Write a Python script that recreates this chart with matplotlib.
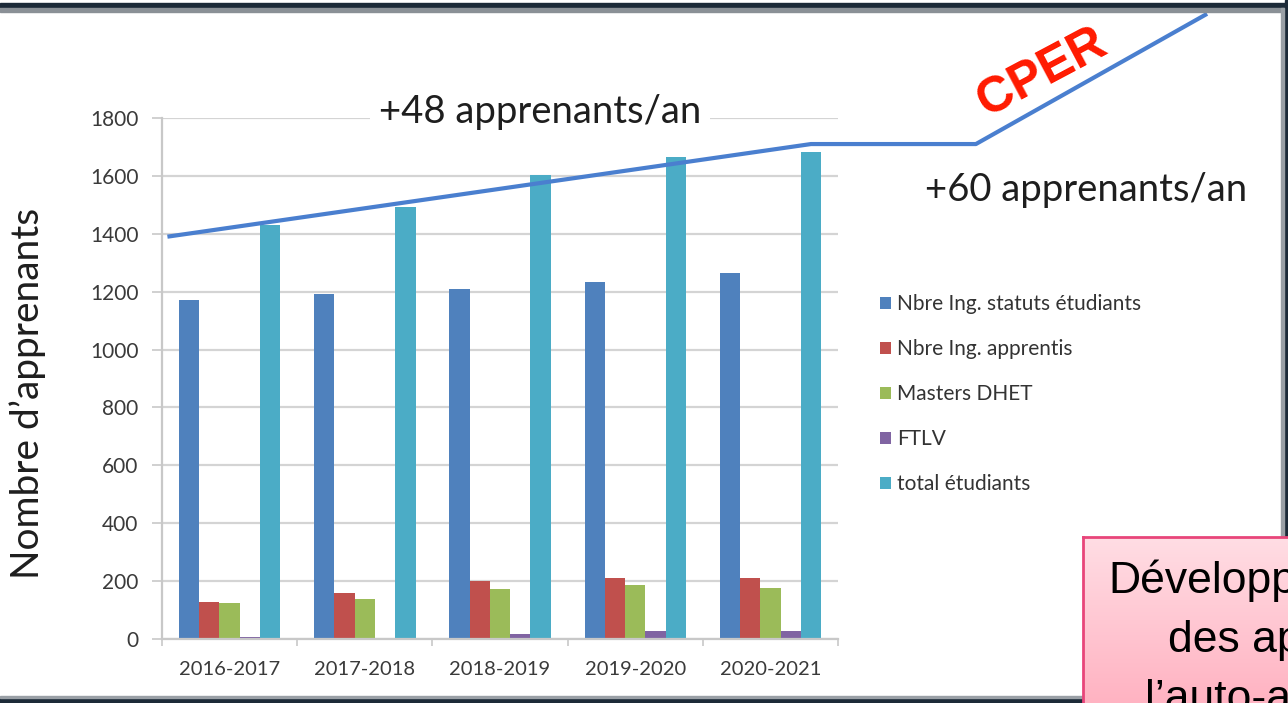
import numpy as np
import matplotlib
matplotlib.use("Agg")
import matplotlib.pyplot as plt
from matplotlib.patches import Rectangle

W, H = 1288, 703

years = ["2016-2017", "2017-2018", "2018-2019", "2019-2020", "2020-2021"]
series_names = ["Nbre Ing. statuts étudiants", "Nbre Ing. apprentis",
                "Masters DHET", "FTLV", "total étudiants"]
ing_etud = [1172, 1193, 1210, 1234, 1265]
ing_app = [128, 158, 200, 210, 210]
masters = [126, 137, 172, 186, 176]
ftlv = [8, 3, 18, 28, 28]
total = [1432, 1494, 1602, 1664, 1682]
colors = ["#4f81bd", "#c0504d", "#9bbb59", "#8064a2", "#4bacc6"]

# trend line (data units: category index, learners)
trend_x = [-0.46, 4.30, 5.52, 7.23]
trend_y = [1390, 1710, 1710, 2160]

yticks = [0, 200, 400, 600, 800, 1000, 1200, 1400, 1600, 1800]

# text of the pink box, as far as the slide shows it
box_lines = ["Développ", "des ap", "l’auto-a"]


def fx(px):
    return px / W


def fy(py):
    return 1 - py / H


plt.rcParams['font.family'] = ['Lato', 'DejaVu Sans']

fig = plt.figure(figsize=(W / 100, H / 100), dpi=100)
ax = fig.add_axes([fx(162), fy(639), fx(838) - fx(162), fy(118) - fy(639)])

x = np.arange(len(years))
bw = 0.15
data = [ing_etud, ing_app, masters, ftlv, total]
handles = []
for i, (vals, c, name) in enumerate(zip(data, colors, series_names)):
    b = ax.bar(x + (i - 2) * bw, vals, bw, color=c, label=name, zorder=2)
    handles.append(b)

ax.set_xlim(-0.5, 4.5)
ax.set_ylim(0, 1800)
ax.set_yticks(yticks)
ax.set_xticks(x)
ax.set_xticklabels(years)
ax.set_xticks(np.arange(-0.5, 5.0, 1.0), minor=True)
ax.tick_params(axis="x", which="major", length=0, pad=16, labelsize=14.5,
               labelcolor="#3a3a3a")
ax.tick_params(axis="x", which="minor", length=5, width=1.2, color="#c8c8c8",
               direction="out")
ax.tick_params(axis="y", length=7, width=1.2, color="#c8c8c8", pad=10,
               labelsize=15, labelcolor="#3a3a3a")
ax.grid(axis="y", color="#d4d4d4", lw=1.6, zorder=0)
ax.set_axisbelow(True)
for s in ["top", "right"]:
    ax.spines[s].set_visible(False)
for s in ["left", "bottom"]:
    ax.spines[s].set_color("#c8c8c8")
    ax.spines[s].set_linewidth(1.6)

ax.plot(trend_x, trend_y, color="#4a7fcf", lw=3, clip_on=False, zorder=4,
        solid_capstyle="butt")

fig.legend(handles=handles, loc="center left",
           bbox_to_anchor=(fx(870), fy(394)), frameon=False,
           fontsize=15, labelcolor="#333333", handlelength=0.5,
           handleheight=0.5, handletextpad=0.3, labelspacing=1.2,
           borderpad=0)

# annotations
fig.text(fx(540), fy(112), "+48 apprenants/an", fontsize=27.5, color="#1e1e1e",
         ha="center", va="center", zorder=3,
         bbox=dict(facecolor="white", edgecolor="none", pad=6))
fig.text(fx(1086), fy(190), "+60 apprenants/an", fontsize=27.5,
         color="#1e1e1e", ha="center", va="center", zorder=3)
fig.text(fx(28), fy(393), "Nombre d’apprenants", fontsize=28,
         color="#1e1e1e", rotation=90, ha="center", va="center")
fig.text(fx(1042), fy(73), "CPER", fontsize=36, color="#ff1a00",
         family="Liberation Sans", weight="bold", rotation=28,
         ha="center", va="center", rotation_mode="anchor", zorder=3)

# slide frame
fig.add_artist(Rectangle((0, fy(7)), 1, fy(3) - fy(7), transform=fig.transFigure,
                         color="#1c2a38", zorder=1))
fig.add_artist(Rectangle((0, fy(12)), 1, fy(8) - fy(12), transform=fig.transFigure,
                         color="#8a9096", zorder=1))
fig.add_artist(Rectangle((fx(1285), 0), 1, 1, transform=fig.transFigure,
                         color="#1c2a38", zorder=1))
fig.add_artist(Rectangle((fx(1281), 0), fx(3), fy(8), transform=fig.transFigure,
                         color="#9aa0a6", zorder=1))
fig.add_artist(Rectangle((0, 0), 1, fy(698), transform=fig.transFigure,
                         color="#1c2a38", zorder=1))
fig.add_artist(Rectangle((0, fy(698)), 1, fy(696) - fy(698),
                         transform=fig.transFigure, color="#9aa0a6", zorder=1))

# pink box, bottom right
bx = fig.add_axes([fx(1083), 0, 1 - fx(1083), fy(537)], zorder=5)
grad = np.linspace(0, 1, 100).reshape(-1, 1)
cmap = matplotlib.colors.LinearSegmentedColormap.from_list(
    "pinkgrad", ["#ffdde4", "#ffb3c2"])
bx.imshow(grad, aspect="auto", cmap=cmap, extent=[0, 1, 0, 1], origin="upper")
bx.set_xticks([])
bx.set_yticks([])
for s in ["bottom", "right"]:
    bx.spines[s].set_visible(False)
for s in ["top", "left"]:
    bx.spines[s].set_color("#e8457a")
    bx.spines[s].set_linewidth(2)

box_x = [1108, 1168, 1145]
box_base = [593, 652, 711]
for t, px, py in zip(box_lines, box_x, box_base):
    fig.text(fx(px), fy(py), t, fontsize=32, family="Liberation Sans",
             color="black", ha="left", va="baseline", zorder=6)

fig.savefig("out.png", dpi=100)
